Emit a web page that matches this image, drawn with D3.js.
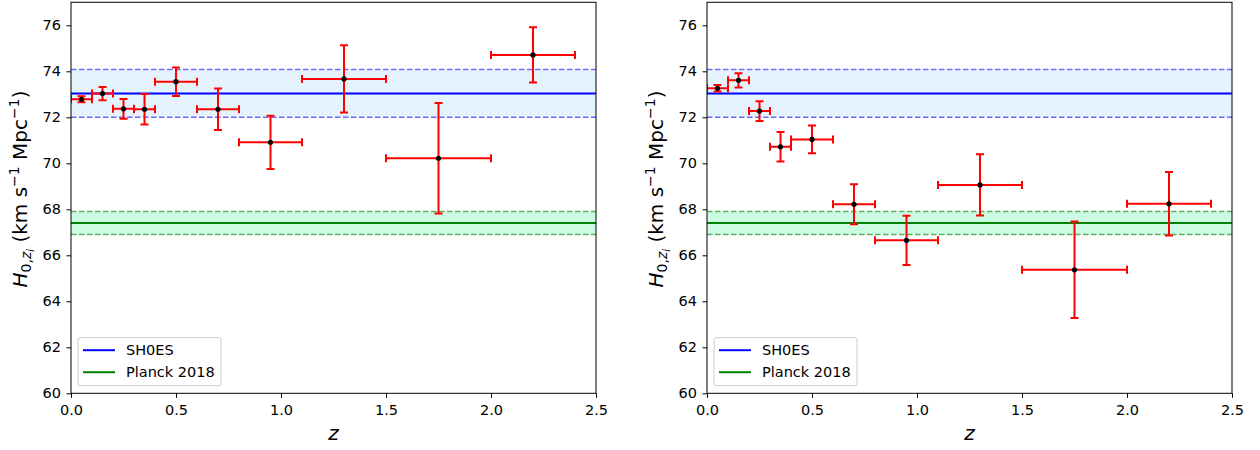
<!DOCTYPE html>
<html>
<head>
<meta charset="utf-8">
<script src="https://cdn.jsdelivr.net/npm/d3@7"></script>
<style>
  body { margin: 0; background: #fff; }
  svg { font-family: "DejaVu Sans", sans-serif; }
</style>
</head>
<body>
<svg id="chart" width="1260" height="450"></svg>
<script>
// bin centres and half widths (same for both panels)
const zCentres = [0.05, 0.15, 0.25, 0.35, 0.5, 0.7, 0.95, 1.3, 1.75, 2.2];
const zHalfWidths = [0.05, 0.05, 0.05, 0.05, 0.1, 0.1, 0.15, 0.2, 0.25, 0.2];

const leftH0 = [72.78, 73.03, 72.37, 72.35, 73.55, 72.35, 70.91, 73.67, 70.22, 74.71];
const leftErr = [0.13, 0.29, 0.43, 0.66, 0.62, 0.9, 1.16, 1.46, 2.4, 1.2];

const rightH0 = [73.26, 73.61, 72.27, 70.72, 71.04, 68.22, 66.65, 69.06, 65.37, 68.24];
const rightErr = [0.14, 0.31, 0.43, 0.64, 0.6, 0.87, 1.07, 1.33, 2.1, 1.38];

const shoes = { label: 'SH0ES', value: 73.04, err: 1.04 };
const planck = { label: 'Planck 2018', value: 67.4, err: 0.5 };

const xTicks = [0.0, 0.5, 1.0, 1.5, 2.0, 2.5];
const yTicks = [60, 62, 64, 66, 68, 70, 72, 74, 76];

const panels = [
  { left: 71, right: 596, h0: leftH0, err: leftErr },
  { left: 707, right: 1232, h0: rightH0, err: rightErr }
];
const plotTop = 2.3, plotBottom = 393.3;

const svg = d3.select('#chart');

panels.forEach((p, idx) => {
  const x = d3.scaleLinear().domain([0, 2.5]).range([p.left, p.right]);
  const y = d3.scaleLinear().domain([60, 77]).range([plotBottom, plotTop]);
  const g = svg.append('g');
  const clipId = 'clip' + idx;
  svg.append('clipPath').attr('id', clipId)
    .append('rect').attr('x', p.left).attr('y', plotTop)
    .attr('width', p.right - p.left).attr('height', plotBottom - plotTop);
  const plot = g.append('g').attr('clip-path', `url(#${clipId})`);

  // reference bands
  const bands = [
    { ref: shoes, fill: '#e5f4fc', dash: '#6b6bff', line: '#0000ff' },
    { ref: planck, fill: '#ccfbe3', dash: '#5cb35c', line: '#008000' }
  ];
  bands.forEach((b) => {
    plot.append('rect')
      .attr('x', p.left).attr('width', p.right - p.left)
      .attr('y', y(b.ref.value + b.ref.err))
      .attr('height', y(b.ref.value - b.ref.err) - y(b.ref.value + b.ref.err))
      .attr('fill', b.fill);
    [b.ref.value + b.ref.err, b.ref.value - b.ref.err].forEach((v) => {
      plot.append('line')
        .attr('x1', p.left).attr('x2', p.right)
        .attr('y1', y(v)).attr('y2', y(v))
        .attr('stroke', b.dash).attr('stroke-width', 1.5)
        .attr('stroke-dasharray', '5.5,2.5');
    });
    plot.append('line')
      .attr('x1', p.left).attr('x2', p.right)
      .attr('y1', y(b.ref.value)).attr('y2', y(b.ref.value))
      .attr('stroke', b.line).attr('stroke-width', 2);
  });

  // error bars
  const pts = zCentres.map((z, i) => ({ z, dz: zHalfWidths[i], h: p.h0[i], e: p.err[i] }));
  const eb = plot.append('g').attr('stroke', '#ff0000').attr('stroke-width', 2).attr('fill', 'none');
  const cap = 4;
  pts.forEach((d) => {
    eb.append('line').attr('x1', x(d.z - d.dz)).attr('x2', x(d.z + d.dz))
      .attr('y1', y(d.h)).attr('y2', y(d.h));
    eb.append('line').attr('x1', x(d.z)).attr('x2', x(d.z))
      .attr('y1', y(d.h - d.e)).attr('y2', y(d.h + d.e));
    [d.z - d.dz, d.z + d.dz].forEach((v) => {
      eb.append('line').attr('x1', x(v)).attr('x2', x(v))
        .attr('y1', y(d.h) - cap).attr('y2', y(d.h) + cap);
    });
    [d.h - d.e, d.h + d.e].forEach((v) => {
      eb.append('line').attr('x1', x(d.z) - cap).attr('x2', x(d.z) + cap)
        .attr('y1', y(v)).attr('y2', y(v));
    });
  });
  plot.selectAll('circle.pt').data(pts).join('circle')
    .attr('class', 'pt')
    .attr('cx', (d) => x(d.z)).attr('cy', (d) => y(d.h))
    .attr('r', 2.6).attr('fill', '#000');

  // axes
  const xAxis = g.append('g').attr('transform', `translate(0,${plotBottom})`)
    .call(d3.axisBottom(x).tickValues(xTicks).tickFormat(d3.format('.1f')).tickSizeOuter(0).tickSize(4.5).tickPadding(6.5));
  const yAxis = g.append('g').attr('transform', `translate(${p.left},0)`)
    .call(d3.axisLeft(y).tickValues(yTicks).tickSizeOuter(0).tickSize(4.5).tickPadding(5.5));
  [xAxis, yAxis].forEach((a) => {
    a.select('.domain').remove();
    a.selectAll('text').attr('font-size', 14.5).attr('fill', '#000')
      .attr('font-family', '"DejaVu Sans", sans-serif');
    a.selectAll('line').attr('stroke', '#000').attr('stroke-width', 1);
  });

  g.append('rect')
    .attr('x', p.left).attr('y', plotTop)
    .attr('width', p.right - p.left).attr('height', plotBottom - plotTop)
    .attr('fill', 'none').attr('stroke', '#000').attr('stroke-width', 1);

  // axis labels
  g.append('text')
    .attr('x', (p.left + p.right) / 2).attr('y', 440)
    .attr('text-anchor', 'middle').attr('font-size', 20)
    .attr('font-style', 'italic').text('z');

  const yl = g.append('text')
    .attr('transform', `translate(${p.left - 44},189) rotate(-90)`)
    .attr('text-anchor', 'middle').attr('font-size', 20);
  yl.append('tspan').attr('font-style', 'italic').text('H');
  yl.append('tspan').attr('font-size', 14).attr('dy', 4).text('0,');
  yl.append('tspan').attr('font-size', 14).attr('font-style', 'italic').text('z');
  yl.append('tspan').attr('font-size', 10).attr('font-style', 'italic').attr('dy', 3).text('i');
  yl.append('tspan').attr('dy', -7).text(' (km s');
  yl.append('tspan').attr('font-size', 14).attr('dy', -8).text('−1');
  yl.append('tspan').attr('dy', 8).text(' Mpc');
  yl.append('tspan').attr('font-size', 14).attr('dy', -8).text('−1');
  yl.append('tspan').attr('dy', 8).text(')');

  // legend
  const lg = g.append('g').attr('transform', `translate(${p.left + 7},${337.7})`);
  lg.append('rect').attr('width', 143).attr('height', 48).attr('rx', 2)
    .attr('fill', '#fff').attr('fill-opacity', 0.8)
    .attr('stroke', '#ccc').attr('stroke-width', 1);
  [[shoes.label, '#0000ff'], [planck.label, '#008000']].forEach(([label, color], i) => {
    const yy = 12.5 + i * 22;
    lg.append('line').attr('x1', 5).attr('x2', 37).attr('y1', yy).attr('y2', yy)
      .attr('stroke', color).attr('stroke-width', 2);
    lg.append('text').attr('x', 48).attr('y', yy + 5).attr('font-size', 14.5).text(label);
  });
});
</script>
</body>
</html>
